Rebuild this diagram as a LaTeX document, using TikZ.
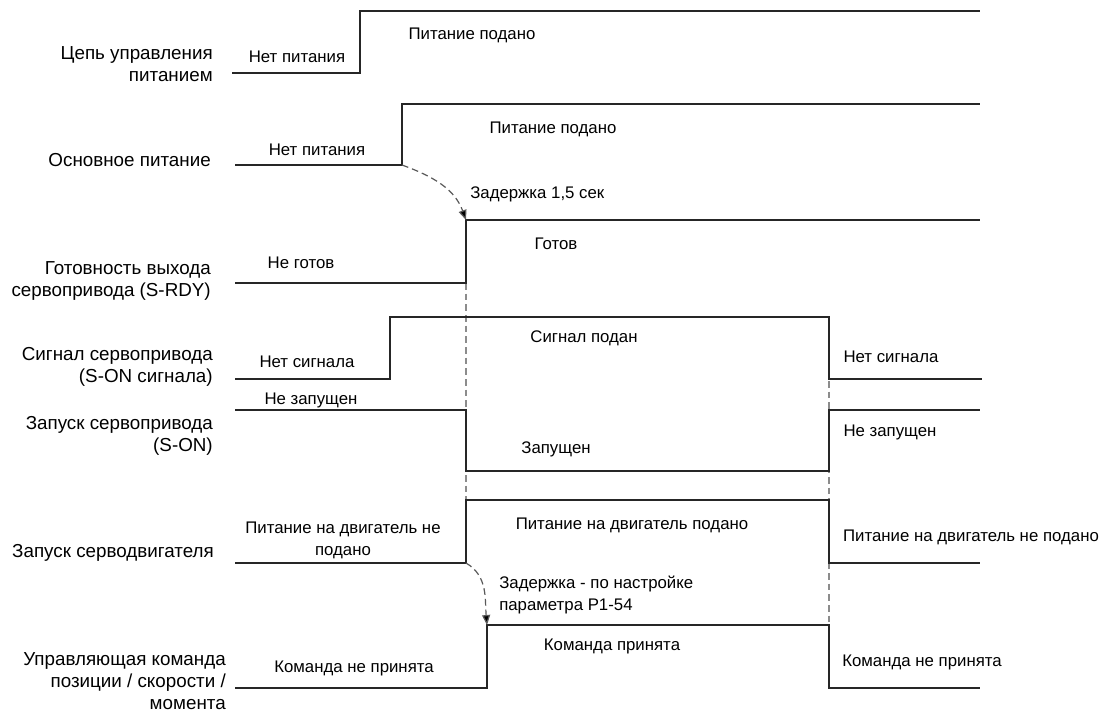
\documentclass[tikz,border=0pt]{standalone}
\usepackage{fontspec}
\setmainfont{Liberation Sans}
\usetikzlibrary{positioning}
\usetikzlibrary{arrows.meta}
\tikzset{timing/.style={x=0.75pt, y=-0.75pt, font=\fontsize{12.6}{16.5}\selectfont},
sig/.style={line width=1.4pt, draw=black!85, line join=miter},
rowlbl/.style={anchor=east, align=right, inner sep=0pt, font=\fontsize{14.1}{16.5}\selectfont},
state/.style={align=center, inner sep=0pt},
guide/.style={dashed, dash pattern=on 5pt off 3pt, line width=0.9pt, draw=black!45},
delay/.style={dashed, dash pattern=on 5pt off 3pt, line width=0.9pt, draw=black!65,
  -{Triangle[length=7.5pt, width=6pt, fill=black]}}}

\begin{document}
\begin{tikzpicture}[timing]
\useasboundingbox (0,0) rectangle (1102,715);
% edges used by the guides and delays
\coordinate (mainup) at (402,165);
\coordinate (rdyup) at (466,220);
\coordinate (rdylow) at (466,283);
\coordinate (motlow) at (466,563);
\coordinate (cmdup) at (487,625);
\coordinate (offtop) at (829,317);
\coordinate (offend) at (829,625);
% dashed guides (under the signals)
\draw[guide] (rdylow) -- (motlow);
\draw[guide] (offtop) -- (offend);
% row labels
\node[rowlbl] (lctrl) at (213,64) {Цепь управления\\питанием};
\node[rowlbl] (lmain) at (211,160) {Основное питание};
\node[rowlbl] (lrdy) at (211,281) {Готовность выхода\\сервопривода (S-RDY)};
\node[rowlbl] (lsig) at (213,367) {Сигнал сервопривода\\(S-ON сигнала)};
\node[rowlbl] (lson) at (213,436) {Запуск сервопривода\\(S-ON)};
\node[rowlbl] (lmot) at (214,553) {Запуск серводвигателя};
\node[rowlbl] (lcmd) at (226,681) {Управляющая команда\\позиции / скорости /\\момента};
% waveforms
\draw[sig] (232,73) -- (360,73) -- (360,11) -- (980,11);
\draw[sig] (235,165) -- (mainup) -- (402,104) -- (980,104);
\draw[sig] (235,283) -- (rdylow) -- (rdyup) -- (980,220);
\draw[sig] (235,379) -- (390,379) -- (390,317) -- (offtop) -- (829,379) -- (982,379);
\draw[sig] (235,410) -- (466,410) -- (466,471) -- (829,471) -- (829,410) -- (980,410);
\draw[sig] (235,563) -- (motlow) -- (466,500) -- (829,500) -- (829,563) -- (980,563);
\draw[sig] (235,688) -- (487,688) -- (cmdup) -- (offend) -- (829,688) -- (980,688);
% states
\node[state] (s1a) at (297,57) {Нет питания};
\node[state] (s1b) at (472,35) {Питание подано};
\node[state] (s2a) at (317,150) {Нет питания};
\node[state] (s2b) at (553,129) {Питание подано};
\node[state] (s3a) at (301,263) {Не готов};
\node[state] (s3b) at (556,244) {Готов};
\node[state] (s4a) at (307,362) {Нет сигнала};
\node[state] (s4b) at (584,338) {Сигнал подан};
\node[state] (s4c) at (891,357) {Нет сигнала};
\node[state] (s5a) at (311,400) {Не запущен};
\node[state] (s5b) at (556,449) {Запущен};
\node[state] (s5c) at (890,432) {Не запущен};
\node[state] (s6a) at (343,540) {Питание на двигатель не\\подано};
\node[state] (s6b) at (632,525) {Питание на двигатель подано};
\node[state] (s6c) at (971,537) {Питание на двигатель не подано};
\node[state] (s7a) at (354,668) {Команда не принята};
\node[state] (s7b) at (612,646) {Команда принята};
\node[state] (s7c) at (922,662) {Команда не принята};
% delays
\draw[delay] (mainup) to[out=-20, in=110] (rdyup);
\node[state, anchor=west] (d1) at (470,194) {Задержка 1,5 сек};
\draw[delay] (motlow) to[out=-30, in=95] (cmdup);
\node[state, anchor=west, align=left] (d2) at (499,595) {Задержка - по настройке\\параметра P1-54};
\end{tikzpicture}
\end{document}
